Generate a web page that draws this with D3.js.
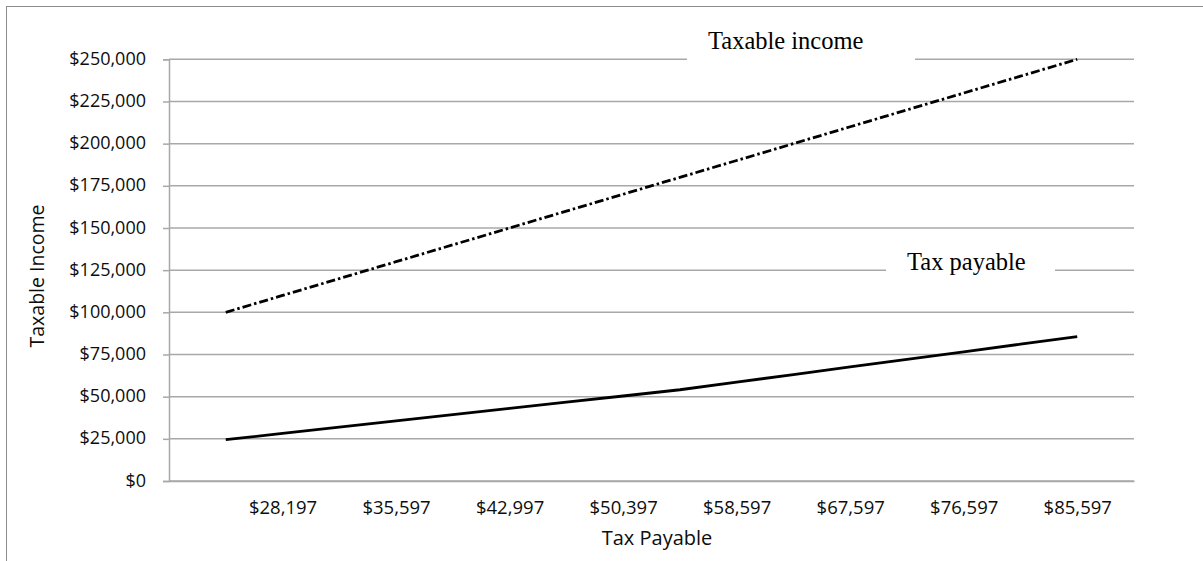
<!DOCTYPE html>
<html>
<head>
<meta charset="utf-8">
<script src="https://cdn.jsdelivr.net/npm/d3@7"></script>
<style>
  html, body { margin: 0; padding: 0; background: #fff; }
  svg { display: block; }
</style>
</head>
<body>
<svg id="chart" width="1203" height="561"></svg>
<script>
// ---- data ----
const incomeCategories = [100000, 110000, 120000, 130000, 140000, 150000, 160000, 170000,
                          180000, 190000, 200000, 210000, 220000, 230000, 240000, 250000];
const taxableIncomeValues = [100000, 110000, 120000, 130000, 140000, 150000, 160000, 170000,
                             180000, 190000, 200000, 210000, 220000, 230000, 240000, 250000];
const taxPayableValues = [24497, 28197, 31897, 35597, 39297, 42997, 46697, 50397,
                          54097, 58597, 63097, 67597, 72097, 76597, 81097, 85597];
const xTickCategories = [110000, 130000, 150000, 170000, 190000, 210000, 230000, 250000];
const xTickLabels = ["$28,197", "$35,597", "$42,997", "$50,397", "$58,597", "$67,597", "$76,597", "$85,597"];
const yTicks = [0, 25000, 50000, 75000, 100000, 125000, 150000, 175000, 200000, 225000, 250000];
const yTickLabels = ["$0", "$25,000", "$50,000", "$75,000", "$100,000", "$125,000", "$150,000",
                     "$175,000", "$200,000", "$225,000", "$250,000"];
const seriesNames = ["Taxable income", "Tax payable"];
const xTitle = "Tax Payable";
const yTitle = "Taxable Income";

// ---- layout ----
const L = 169, R = 1134, T = 59.3, B = 481;
const sansFont = "'Open Sans', sans-serif";
const serifFont = "'Liberation Serif', serif";
const gridColor = "#a8a8a8";
const textColor = "#0d0d0d";

const svg = d3.select("#chart");

// outer frame
svg.append("rect")
  .attr("x", 6.5).attr("y", 6.5)
  .attr("width", 1203).attr("height", 600)
  .attr("fill", "#fff").attr("stroke", "#8c8c8c").attr("stroke-width", 1);

const x = d3.scalePoint().domain(incomeCategories).range([L, R]).padding(1);
const y = d3.scaleLinear().domain([0, 250000]).range([B, T]);

// gridlines
svg.append("g")
  .selectAll("line")
  .data(yTicks)
  .join("line")
  .attr("x1", L).attr("x2", R)
  .attr("y1", d => y(d)).attr("y2", d => y(d))
  .attr("stroke", gridColor).attr("stroke-width", 1.5);

// y axis
const yAxis = svg.append("g")
  .attr("transform", `translate(${L},0)`)
  .call(d3.axisLeft(y).tickValues(yTicks).tickSize(6).tickPadding(17)
        .tickFormat((d, i) => yTickLabels[i]));
yAxis.select(".domain").attr("stroke", gridColor).attr("stroke-width", 1.5);
yAxis.selectAll(".tick line").attr("stroke", gridColor).attr("stroke-width", 1.5);
yAxis.selectAll(".tick text")
  .attr("font-family", sansFont).attr("font-size", 18).attr("fill", textColor)
  .attr("dy", "0.28em");

// x axis
const xAxis = svg.append("g")
  .attr("transform", `translate(0,${B})`)
  .call(d3.axisBottom(x).tickValues(xTickCategories).tickSize(0)
        .tickFormat((d, i) => xTickLabels[i]));
xAxis.select(".domain").attr("stroke", gridColor).attr("stroke-width", 1.5);
xAxis.selectAll(".tick text")
  .attr("font-family", sansFont).attr("font-size", 18.5).attr("fill", textColor)
  .attr("y", 33).attr("dy", "0");

// axis titles
svg.append("text")
  .attr("x", 657).attr("y", 545)
  .attr("text-anchor", "middle")
  .attr("font-family", sansFont).attr("font-size", 20).attr("fill", textColor)
  .text(xTitle);
svg.append("text")
  .attr("transform", "translate(44,276) rotate(-90)")
  .attr("text-anchor", "middle")
  .attr("font-family", sansFont).attr("font-size", 19.5).attr("fill", textColor)
  .text(yTitle);

// series lines
const line = d3.line().x((d, i) => x(incomeCategories[i])).y(d => y(d));

svg.append("path")
  .datum(taxableIncomeValues)
  .attr("d", line)
  .attr("fill", "none").attr("stroke", "#000").attr("stroke-width", 2.8)
  .attr("stroke-dasharray", "9,3,2.5,3");

svg.append("path")
  .datum(taxPayableValues)
  .attr("d", line)
  .attr("fill", "none").attr("stroke", "#000").attr("stroke-width", 2.8)
  .attr("stroke-linejoin", "round");

// series labels with white boxes
svg.append("rect").attr("x", 687).attr("y", 24).attr("width", 228).attr("height", 42).attr("fill", "#fff");
svg.append("text")
  .attr("x", 708).attr("y", 49)
  .attr("font-family", serifFont).attr("font-size", 24.5).attr("fill", "#000")
  .text(seriesNames[0]);

svg.append("rect").attr("x", 886).attr("y", 246).attr("width", 169).attr("height", 44).attr("fill", "#fff");
svg.append("text")
  .attr("x", 907).attr("y", 269.5)
  .attr("font-family", serifFont).attr("font-size", 24.5).attr("fill", "#000")
  .text(seriesNames[1]);
</script>
</body>
</html>
